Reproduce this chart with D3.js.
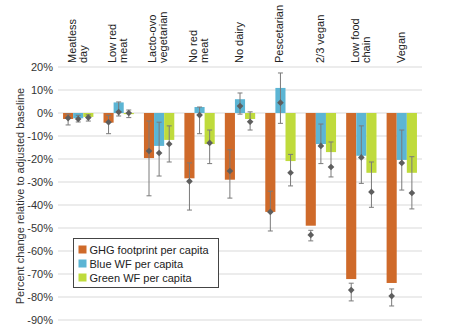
<!DOCTYPE html>
<html lang="en">
<head>
<meta charset="UTF-8">
<title>Diet scenarios</title>
<script src="https://d3js.org/d3.v7.min.js"></script>
<style>
  body { margin: 0; background: #fff; }
  text { font-family: "Liberation Sans", Arial, sans-serif; }
</style>
</head>
<body>
<script>
// data (percent)
var categories = ["Meatless day", "Low red meat", "Lacto-ovo vegetarian", "No red meat", "No dairy",
                  "Pescetarian", "2/3 vegan", "Low food chain", "Vegan"];
var catLines = [["Meatless", "day"], ["Low red", "meat"], ["Lacto-ovo", "vegetarian"], ["No red", "meat"],
                ["No dairy"], ["Pescetarian"], ["2/3 vegan"], ["Low food", "chain"], ["Vegan"]];
var seriesNames = ["GHG footprint per capita", "Blue WF per capita", "Green WF per capita"];
var seriesColors = ["#cf6a2a", "#5cb5d4", "#bfdb3c"];

var ghgBar  = [-2.6, -4.2, -19.6, -28.4, -29.0, -43.0, -49.0, -72.2, -73.9];
var ghgMid  = [-2.2, -4.0, -16.5, -29.7, -25.2, -43.0, -53.0, -77.0, -79.6];
var ghgLo   = [-5.2, -9.0, -36.0, -42.2, -37.0, -51.3, -55.6, -81.7, -83.9];
var ghgHi   = [-0.5, -1.0, -3.5, -21.7, -16.0, -34.0, -51.0, -74.0, -76.5];

var blueBar = [-2.3, 4.6, -14.3, 2.6, 6.0, 10.9, -13.5, -18.6, -20.4];
var blueMid = [-2.6, 0.4, -17.4, -0.9, 3.0, 4.5, -14.3, -19.3, -21.7];
var blueLo  = [-3.9, -1.3, -27.4, -9.0, -0.5, -4.5, -22.0, -30.6, -33.5];
var blueHi  = [-1.0, 4.8, -4.0, 2.6, 8.7, 17.4, -4.8, -5.6, -7.4];

var greenBar = [-1.7, -0.5, -11.7, -13.5, -2.6, -20.9, -17.0, -26.0, -26.0];
var greenMid = [-2.0, 0.0, -13.5, -13.0, -3.8, -26.0, -23.5, -34.3, -34.8];
var greenLo  = [-3.5, -2.0, -21.3, -22.0, -7.4, -31.7, -27.8, -41.0, -41.7];
var greenHi  = [-0.8, 1.3, -5.6, -7.4, 0.5, -18.0, -12.6, -21.3, -19.0];

var yTicks = [20, 10, 0, -10, -20, -30, -40, -50, -60, -70, -80, -90];

var w = 457, h = 336;
var plotLeft = 58, plotRight = 422, plotTop = 67, plotBottom = 320;

var svg = d3.select("body").append("svg")
    .attr("width", w)
    .attr("height", h);

var x = d3.scaleBand().domain(categories).range([plotLeft, plotRight]);
var xs = d3.scaleBand().domain(seriesNames).range([0, x.bandwidth()]).paddingOuter(0.5);
var y = d3.scaleLinear().domain([-90, 20]).range([plotBottom, plotTop]);

// gridlines
svg.append("g").selectAll("line")
    .data(yTicks).enter().append("line")
    .attr("x1", plotLeft).attr("x2", plotRight)
    .attr("y1", function(d){ return y(d); })
    .attr("y2", function(d){ return y(d); })
    .attr("stroke", "#d9d9d9")
    .attr("stroke-width", 1);

// y axis labels
var yAxis = svg.append("g")
    .attr("transform", "translate(" + plotLeft + ",0)")
    .call(d3.axisLeft(y).tickValues(yTicks).tickSize(0).tickPadding(5)
          .tickFormat(function(d){ return d + "%"; }));
yAxis.select(".domain").remove();
yAxis.selectAll("text").attr("font-size", 11).attr("fill", "#333")
    .style("font-family", "'Liberation Sans', Arial, sans-serif");

svg.append("text")
    .attr("transform", "translate(24,196) rotate(-90)")
    .attr("text-anchor", "middle")
    .attr("font-size", 11)
    .attr("fill", "#333")
    .text("Percent change relative to adjusted baseline");

// category labels
svg.append("g").selectAll("text")
    .data(categories).enter().append("text")
    .attr("font-size", 11)
    .attr("fill", "#222")
    .attr("transform", function(d, i){
        var n = catLines[i].length;
        var bx = x(d) + 23 - (n - 1) * 5.5;
        return "translate(" + bx + ",63) rotate(-90)";
    })
    .each(function(d, i){
        var t = d3.select(this);
        catLines[i].forEach(function(line, k){
            t.append("tspan").attr("x", 0).attr("dy", k === 0 ? 0 : 11).text(line);
        });
    });

var series = [
    {name: seriesNames[0], bar: ghgBar, mid: ghgMid, lo: ghgLo, hi: ghgHi},
    {name: seriesNames[1], bar: blueBar, mid: blueMid, lo: blueLo, hi: blueHi},
    {name: seriesNames[2], bar: greenBar, mid: greenMid, lo: greenLo, hi: greenHi}
];

var bw = xs.bandwidth();

series.forEach(function(s, si){
    var g = svg.append("g");
    var rows = categories.map(function(c, i){
        return {cat: c, bar: s.bar[i]};
    });

    g.selectAll("rect").data(rows).enter().append("rect")
        .attr("x", function(d){ return x(d.cat) + xs(s.name); })
        .attr("width", bw)
        .attr("y", function(d){ return y(Math.max(0, d.bar)); })
        .attr("height", function(d){ return Math.abs(y(d.bar) - y(0)); })
        .attr("fill", seriesColors[si]);
});

// error bars and markers on top
series.forEach(function(s){
    var g = svg.append("g");
    var rows = categories.map(function(c, i){
        return {cat: c, mid: s.mid[i], lo: s.lo[i], hi: s.hi[i]};
    });
    var cx = function(d){ return x(d.cat) + xs(s.name) + bw / 2; };

    g.selectAll("line.v").data(rows).enter().append("line")
        .attr("class", "v")
        .attr("x1", cx).attr("x2", cx)
        .attr("y1", function(d){ return y(d.hi); })
        .attr("y2", function(d){ return y(d.lo); })
        .attr("stroke", "#7a7a7a");
    ["hi", "lo"].forEach(function(k){
        g.selectAll("line.c" + k).data(rows).enter().append("line")
            .attr("class", "c" + k)
            .attr("x1", function(d){ return cx(d) - 2.5; })
            .attr("x2", function(d){ return cx(d) + 2.5; })
            .attr("y1", function(d){ return y(d[k]); })
            .attr("y2", function(d){ return y(d[k]); })
            .attr("stroke", "#7a7a7a");
    });
    g.selectAll("path").data(rows).enter().append("path")
        .attr("d", d3.symbol().type(d3.symbolSquare).size(22))
        .attr("transform", function(d){
            return "translate(" + cx(d) + "," + y(d.mid) + ") rotate(45)";
        })
        .attr("fill", "#5e5e5e");
});

// legend
var lg = svg.append("g").attr("transform", "translate(73.5,238.5)");
lg.append("rect").attr("width", 145).attr("height", 49)
    .attr("fill", "#fff").attr("stroke", "#444");
seriesNames.forEach(function(n, i){
    lg.append("rect").attr("x", 5).attr("y", 7 + i * 14).attr("width", 8).attr("height", 8)
        .attr("fill", seriesColors[i]);
    lg.append("text").attr("x", 16).attr("y", 15 + i * 14)
        .attr("font-size", 11).attr("fill", "#222").text(n);
});
</script>
</body>
</html>
